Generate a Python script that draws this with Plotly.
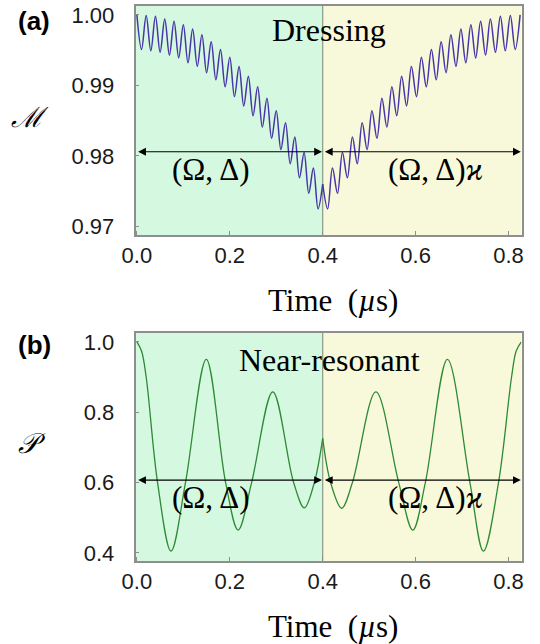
import plotly.graph_objects as go

# ---------------- data ----------------
# Panel (a): Dressing  -- peaks and troughs of the M curve
a_left_peak_t = [0.000, 0.020, 0.040, 0.060, 0.080, 0.100, 0.120, 0.140, 0.160, 0.180,
                 0.200, 0.220, 0.240, 0.260, 0.280, 0.300, 0.320, 0.340, 0.360, 0.380, 0.400]
a_left_peak_m = [1.0000, 0.9999, 0.9998, 0.9994, 0.9991, 0.9986, 0.9980, 0.9972, 0.9962, 0.9951,
                 0.9940, 0.9927, 0.9913, 0.9898, 0.9882, 0.9864, 0.9847, 0.9827, 0.9805, 0.9783, 0.9760]
a_left_trough_t = [0.010, 0.030, 0.050, 0.070, 0.090, 0.110, 0.130, 0.150, 0.170, 0.190,
                   0.210, 0.230, 0.250, 0.270, 0.290, 0.310, 0.330, 0.350, 0.370, 0.390]
a_left_trough_m = [0.9951, 0.9949, 0.9947, 0.9943, 0.9939, 0.9932, 0.9927, 0.9918, 0.9908, 0.9898,
                   0.9884, 0.9871, 0.9857, 0.9841, 0.9825, 0.9809, 0.9789, 0.9769, 0.9747, 0.9725]

a_right_peak_t = [0.400, 0.421, 0.4425, 0.464, 0.485, 0.506, 0.5275, 0.549, 0.570, 0.591,
                  0.6125, 0.634, 0.655, 0.676, 0.6975, 0.719, 0.740, 0.761, 0.7825, 0.804, 0.825]
a_right_peak_m = [0.9760, 0.9783, 0.9805, 0.9827, 0.9847, 0.9864, 0.9882, 0.9898, 0.9913, 0.9927,
                  0.9940, 0.9951, 0.9962, 0.9972, 0.9980, 0.9986, 0.9991, 0.9994, 0.9998, 0.9999, 1.0000]
a_right_trough_t = [0.4106, 0.4319, 0.4531, 0.4744, 0.4956, 0.5169, 0.5381, 0.5594, 0.5806, 0.6019,
                    0.6231, 0.6444, 0.6656, 0.6869, 0.7081, 0.7294, 0.7506, 0.7719, 0.7931, 0.8144]
a_right_trough_m = [0.9725, 0.9747, 0.9769, 0.9789, 0.9809, 0.9825, 0.9841, 0.9857, 0.9871, 0.9884,
                    0.9898, 0.9908, 0.9918, 0.9927, 0.9932, 0.9939, 0.9943, 0.9947, 0.9949, 0.9951]

# Panel (b): Near-resonant -- extrema and crossings of P
b_left_t = [0.000, 0.010, 0.020, 0.0445, 0.0735, 0.1046, 0.1494, 0.191, 0.218, 0.247,
            0.2926, 0.3374, 0.3605, 0.382, 0.400]
b_left_p = [1.000, 0.974, 0.900, 0.600, 0.405, 0.600, 0.950, 0.600, 0.465, 0.600,
            0.858, 0.600, 0.528, 0.600, 0.7255]
b_right_t = [0.400, 0.417, 0.4408, 0.464, 0.5145, 0.5637, 0.594, 0.621, 0.6685, 0.717,
             0.746, 0.7785, 0.8066, 0.8166, 0.8276]
b_right_p = [0.7255, 0.600, 0.527, 0.600, 0.858, 0.600, 0.465, 0.600, 0.950, 0.600,
             0.405, 0.600, 0.900, 0.974, 1.000]

x_ticks = [0.0, 0.2, 0.4, 0.6, 0.8]
a_y_ticks = [0.97, 0.98, 0.99, 1.00]
b_y_ticks = [0.4, 0.6, 0.8, 1.0]
t_switch = 0.4
a_arrow_y = 0.9806
b_arrow_y = 0.607

# ---------------- helpers ----------------
def merge(pt, pv, tt, tv):
    pts = sorted(list(zip(pt, pv)) + list(zip(tt, tv)))
    return [p[0] for p in pts], [p[1] for p in pts]

W, H = 540, 644
def px(x):
    return x / W
def py(y):
    return 1 - y / H

PURPLE = "#4636a8"
GREEN = "#2f8a35"
MINT = "#d5f8e1"
CREAM = "#f7f9da"
BORDER = "#8e8e8e"
SERIF = "Liberation Serif, DejaVu Serif, serif"
SANS = "Liberation Sans, Arial, sans-serif"

fig = go.Figure()

ax_l, ay_l = merge(a_left_peak_t, a_left_peak_m, a_left_trough_t, a_left_trough_m)
ax_r, ay_r = merge(a_right_peak_t, a_right_peak_m, a_right_trough_t, a_right_trough_m)
for xs, ys in [(ax_l, ay_l), (ax_r, ay_r)]:
    fig.add_trace(go.Scatter(x=xs, y=ys, mode="lines", xaxis="x", yaxis="y",
                             line=dict(color=PURPLE, width=1.5, shape="spline", smoothing=1.0),
                             showlegend=False, hoverinfo="skip"))
for xs, ys in [(b_left_t, b_left_p), (b_right_t, b_right_p)]:
    fig.add_trace(go.Scatter(x=xs, y=ys, mode="lines", xaxis="x2", yaxis="y2",
                             line=dict(color=GREEN, width=1.3, shape="spline", smoothing=1.0),
                             showlegend=False, hoverinfo="skip"))

xr = [-0.003, 0.828]
xdom = [px(135.5), px(521.5)]
common_x = dict(range=xr, domain=xdom, tickvals=x_ticks, tickformat=".1f", automargin=False,
                showline=True, mirror=True, linecolor=BORDER, linewidth=1.5,
                ticks="inside", ticklen=4, tickcolor=BORDER, showgrid=False, zeroline=False,
                tickfont=dict(family=SANS, size=22, color="#1a1a1a"), ticklabelstandoff=0)
common_y = dict(showline=True, mirror=True, linecolor=BORDER, linewidth=1.5, automargin=False,
                ticks="inside", ticklen=4, tickcolor=BORDER, showgrid=False, zeroline=False,
                tickfont=dict(family=SANS, size=22, color="#1a1a1a"), ticklabelstandoff=15)

fig.update_layout(
    width=W, height=H, margin=dict(l=0, r=0, t=0, b=0, autoexpand=False),
    paper_bgcolor="white", plot_bgcolor="white",
    xaxis=dict(anchor="y", **common_x),
    yaxis=dict(anchor="x", domain=[py(235), py(5.7)], range=[0.9688, 1.0013],
               tickvals=a_y_ticks, tickformat=".2f", **common_y),
    xaxis2=dict(anchor="y2", **common_x),
    yaxis2=dict(anchor="x2", domain=[py(561), py(332.7)], range=[0.377, 1.026],
                tickvals=b_y_ticks, tickformat=".1f", **common_y),
)

shapes = []
for xa, ya in [("x", "y"), ("x2", "y2")]:
    shapes.append(dict(type="rect", xref=xa, yref=ya + " domain", x0=xr[0], x1=t_switch, y0=0, y1=1,
                       fillcolor=MINT, line=dict(width=0), layer="below"))
    shapes.append(dict(type="rect", xref=xa, yref=ya + " domain", x0=t_switch, x1=xr[1], y0=0, y1=1,
                       fillcolor=CREAM, line=dict(width=0), layer="below"))
    shapes.append(dict(type="line", xref=xa, yref=ya + " domain", x0=t_switch, x1=t_switch, y0=0, y1=1,
                       line=dict(color="#8a9a84", width=1.2), layer="below"))
fig.update_layout(shapes=shapes)

ann = []
def txt(text, x, y, size, family=SERIF, **kw):
    ann.append(dict(text=text, xref="paper", yref="paper", x=px(x), y=py(y),
                    xanchor="center", yanchor="middle", showarrow=False,
                    font=dict(family=family, size=size, color="black"), **kw))

txt("<b>(a)</b>", 33.5, 21, 26, family=SANS)
txt("<b>(b)</b>", 34.5, 345, 26, family=SANS)
txt("<i>ℳ</i>", 30, 118, 28, family="DejaVu Serif, serif")
txt("<i>𝒫</i>", 32, 443, 28, family="DejaVu Serif, serif")
txt("Dressing", 329, 30, 32)
txt("Near-resonant", 329.5, 360, 32)
txt("Time  (<i>µ</i>s)", 333, 300, 31)
txt("Time  (<i>µ</i>s)", 333, 626, 31)
for yc in [169, 497]:
    txt("(Ω,&#8201;Δ)", 211, yc, 31)
    txt("(Ω,&#8201;Δ)<i>ϰ</i>", 435, yc, 31)

# double-headed arrows
for xa, ya, yv in [("x", "y", a_arrow_y), ("x2", "y2", b_arrow_y)]:
    for x0, x1 in [(-0.0005, t_switch - 0.0015), (t_switch + 0.0015, 0.8265)]:
        ann.append(dict(x=x1, y=yv, ax=x0, ay=yv, xref=xa, yref=ya, axref=xa, ayref=ya,
                        text="", showarrow=True, arrowhead=2, startarrowhead=2,
                        arrowside="end+start", arrowsize=1.3, startarrowsize=1.3,
                        arrowwidth=1.2, arrowcolor="black", standoff=0, startstandoff=0))
fig.update_layout(annotations=ann)

fig.write_html("out.html", config={"displayModeBar": False},
               post_script="document.body.style.margin='0px';document.body.style.overflow='hidden';")
